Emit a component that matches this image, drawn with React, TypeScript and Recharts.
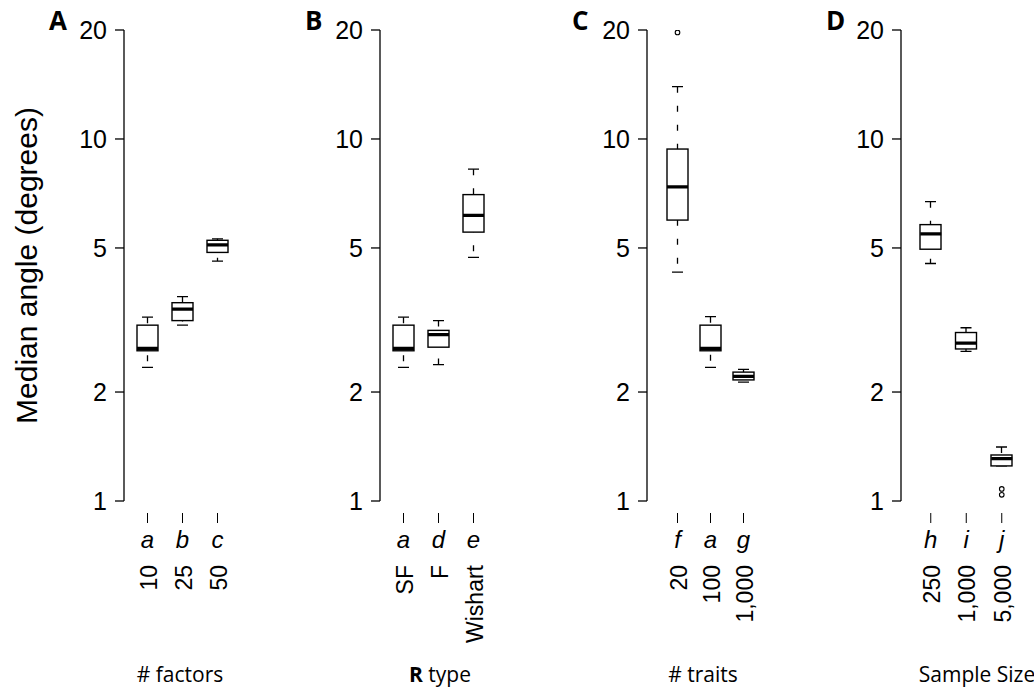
import { ComposedChart, Bar, Scatter, XAxis, YAxis, Label } from "recharts";

// A: number of factors
const factorCats = ["10", "25", "50"];
const factorLetters = ["a", "b", "c"];
const factorMin = [2.34, 3.06, 4.6];
const factorQ1 = [2.6, 3.15, 4.86];
const factorMed = [2.64, 3.39, 5.1];
const factorQ3 = [3.06, 3.53, 5.25];
const factorMax = [3.22, 3.67, 5.3];

// B: R type
const rtypeCats = ["SF", "F", "Wishart"];
const rtypeLetters = ["a", "d", "e"];
const rtypeMin = [2.34, 2.38, 4.71];
const rtypeQ1 = [2.6, 2.66, 5.53];
const rtypeMed = [2.64, 2.88, 6.15];
const rtypeQ3 = [3.06, 2.96, 7.02];
const rtypeMax = [3.22, 3.15, 8.25];

// C: number of traits
const traitCats = ["20", "100", "1,000"];
const traitLetters = ["f", "a", "g"];
const traitMin = [4.29, 2.34, 2.13];
const traitQ1 = [5.97, 2.6, 2.16];
const traitMed = [7.37, 2.64, 2.21];
const traitQ3 = [9.38, 3.06, 2.27];
const traitMax = [13.95, 3.23, 2.31];
const traitOut1 = [19.7, null, null];

// D: sample size
const sizeCats = ["250", "1,000", "5,000"];
const sizeLetters = ["h", "i", "j"];
const sizeMin = [4.53, 2.59, 1.25];
const sizeQ1 = [4.96, 2.63, 1.25];
const sizeMed = [5.47, 2.73, 1.31];
const sizeQ3 = [5.8, 2.92, 1.34];
const sizeMax = [6.71, 3.01, 1.41];
const sizeOut1 = [null, null, 1.08];
const sizeOut2 = [null, null, 1.04];

const yTicks = [1, 2, 5, 10, 20];

const BOX_W = 21;
const CAP_W = 11;
const RIGHT = 32;
const SANS = "'Liberation Sans', Arial, Helvetica, sans-serif";
const TITLE_FONT = "'Open Sans', 'Noto Sans', sans-serif";

const Whisker = (p: any) => {
  const cx = p.x + p.width / 2;
  const top = Math.min(p.y, p.y + p.height);
  const bot = Math.max(p.y, p.y + p.height);
  return (
    <g>
      <line x1={cx} x2={cx} y1={top} y2={bot} stroke="#000" strokeWidth={1.3} strokeDasharray="6 13" />
      <line x1={cx - CAP_W / 2} x2={cx + CAP_W / 2} y1={top} y2={top} stroke="#000" strokeWidth={1.3} />
      <line x1={cx - CAP_W / 2} x2={cx + CAP_W / 2} y1={bot} y2={bot} stroke="#000" strokeWidth={1.3} />
    </g>
  );
};

const BoxShape = (p: any) => {
  const top = Math.min(p.y, p.y + p.height);
  const h = Math.abs(p.height);
  return <rect x={p.x} y={top} width={p.width} height={h} fill="#fff" stroke="#000" strokeWidth={1.4} />;
};

const Median = (p: any) => {
  if (!Number.isFinite(p.cx) || !Number.isFinite(p.cy)) return <g />;
  return (
    <line x1={p.cx - BOX_W / 2} x2={p.cx + BOX_W / 2} y1={p.cy} y2={p.cy} stroke="#000" strokeWidth={3.2} />
  );
};

const makeOutlier = (key: string) => (p: any) => {
  if (p.payload == null || p.payload[key] == null || !Number.isFinite(p.cy)) return <g />;
  return <circle cx={p.cx} cy={p.cy} r={2.3} fill="none" stroke="#000" strokeWidth={1.1} />;
};

const makeTick = (cats: string[], letters: string[]) => (p: any) => {
  const i = cats.indexOf(p.payload.value);
  const lx = p.x + 9;
  const ly = p.y + 64;
  return (
    <g>
      <line x1={p.x} x2={p.x} y1={p.y + 12} y2={p.y + 22} stroke="#000" strokeWidth={1} />
      <text x={p.x} y={p.y + 47} textAnchor="middle" fontStyle="italic" fontSize={24} fontFamily={SANS} fill="#000">
        {letters[i]}
      </text>
      <text x={lx} y={ly} transform={`rotate(-90 ${lx} ${ly})`} textAnchor="end" fontSize={23} fontFamily={SANS} fill="#000">
        {p.payload.value}
      </text>
    </g>
  );
};

function Panel(props: any) {
  const { letter, title, cats, letters, min, q1, med, q3, max, out1, out2, axisX, yWidth, padLeft, band, titleDx, yTitle } = props;
  const data = cats.map((c: string, i: number) => ({
    cat: c,
    min: min[i],
    q1: q1[i],
    med: med[i],
    q3: q3[i],
    max: max[i],
    out1: out1 ? out1[i] : null,
    out2: out2 ? out2[i] : null,
  }));
  const plotW = padLeft + band * 3;
  const width = yWidth + plotW + RIGHT;

  return (
    <div style={{ position: "absolute", left: axisX - yWidth, top: 0 }}>
      <ComposedChart width={width} height={692} data={data} margin={{ top: 30, right: RIGHT, bottom: 0, left: 0 }} barSize={BOX_W} barGap={-BOX_W}>
        <XAxis
          dataKey="cat"
          type="category"
          axisLine={false}
          tickLine={false}
          tickSize={0}
          tickMargin={0}
          height={191}
          interval={0}
          padding={{ left: padLeft, right: 0 }}
          tick={makeTick(cats, letters)}
        >
          <Label
            content={(lp: any) => {
              const vb = lp.viewBox || { x: 0, y: 501 };
              return (
                <text x={vb.x + titleDx} y={vb.y + 181} textAnchor="middle" fontSize={21} fontFamily={TITLE_FONT} fill="#000">
                  {title}
                </text>
              );
            }}
          />
        </XAxis>
        <YAxis
          type="number"
          scale="log"
          domain={[1, 20]}
          ticks={yTicks}
          allowDataOverflow
          width={yWidth}
          tickSize={9}
          tickMargin={8}
          stroke="#000"
          axisLine={{ stroke: "#000", strokeWidth: 1.3 }}
          tickLine={{ stroke: "#000", strokeWidth: 1.3 }}
          tick={{ fill: "#000", fontSize: 25, fontFamily: SANS }}
          tickFormatter={(v: number) => String(v)}
        >
          <Label
            content={(lp: any) => {
              const vb = lp.viewBox || { x: 0, width: yWidth, y: 30, height: 471 };
              const ax = vb.x + vb.width;
              return (
                <g>
                  <text x={ax - 75} y={30} fontSize={26} fontWeight="bold" fontFamily={TITLE_FONT} fill="#000">
                    {letter}
                  </text>
                  {yTitle ? (
                    <text x={37} y={vb.y + vb.height / 2} transform={`rotate(-90 37 ${vb.y + vb.height / 2})`} textAnchor="middle" fontSize={30} fontFamily={SANS} fill="#000">
                      {yTitle}
                    </text>
                  ) : null}
                </g>
              );
            }}
          />
        </YAxis>
        <Bar dataKey={(d: any) => [d.min, d.max]} shape={Whisker} isAnimationActive={false} />
        <Bar dataKey={(d: any) => [d.q1, d.q3]} shape={BoxShape} isAnimationActive={false} />
        <Scatter dataKey="med" shape={Median} isAnimationActive={false} />
        {out1 ? <Scatter dataKey="out1" shape={makeOutlier("out1")} isAnimationActive={false} /> : null}
        {out2 ? <Scatter dataKey="out2" shape={makeOutlier("out2")} isAnimationActive={false} /> : null}
      </ComposedChart>
    </div>
  );
}

export default function App() {
  return (
    <div style={{ position: "absolute", left: 0, top: 0, width: 1034, height: 692, background: "#fff" }}>
      <Panel
        letter="A"
        title="# factors"
        yTitle="Median angle (degrees)"
        cats={factorCats}
        letters={factorLetters}
        min={factorMin}
        q1={factorQ1}
        med={factorMed}
        q3={factorQ3}
        max={factorMax}
        axisX={124}
        yWidth={124}
        padLeft={6}
        band={35}
        titleDx={56}
      />
      <Panel
        letter="B"
        title={
          <>
            <tspan fontWeight="bold">R</tspan> type
          </>
        }
        cats={rtypeCats}
        letters={rtypeLetters}
        min={rtypeMin}
        q1={rtypeQ1}
        med={rtypeMed}
        q3={rtypeQ3}
        max={rtypeMax}
        axisX={380}
        yWidth={100}
        padLeft={6}
        band={35}
        titleDx={60}
      />
      <Panel
        letter="C"
        title="# traits"
        cats={traitCats}
        letters={traitLetters}
        min={traitMin}
        q1={traitQ1}
        med={traitMed}
        q3={traitQ3}
        max={traitMax}
        out1={traitOut1}
        axisX={647}
        yWidth={100}
        padLeft={14}
        band={33}
        titleDx={56}
      />
      <Panel
        letter="D"
        title="Sample Size"
        cats={sizeCats}
        letters={sizeLetters}
        min={sizeMin}
        q1={sizeQ1}
        med={sizeMed}
        q3={sizeQ3}
        max={sizeMax}
        out1={sizeOut1}
        out2={sizeOut2}
        axisX={901}
        yWidth={100}
        padLeft={12}
        band={35.5}
        titleDx={76}
      />
    </div>
  );
}
